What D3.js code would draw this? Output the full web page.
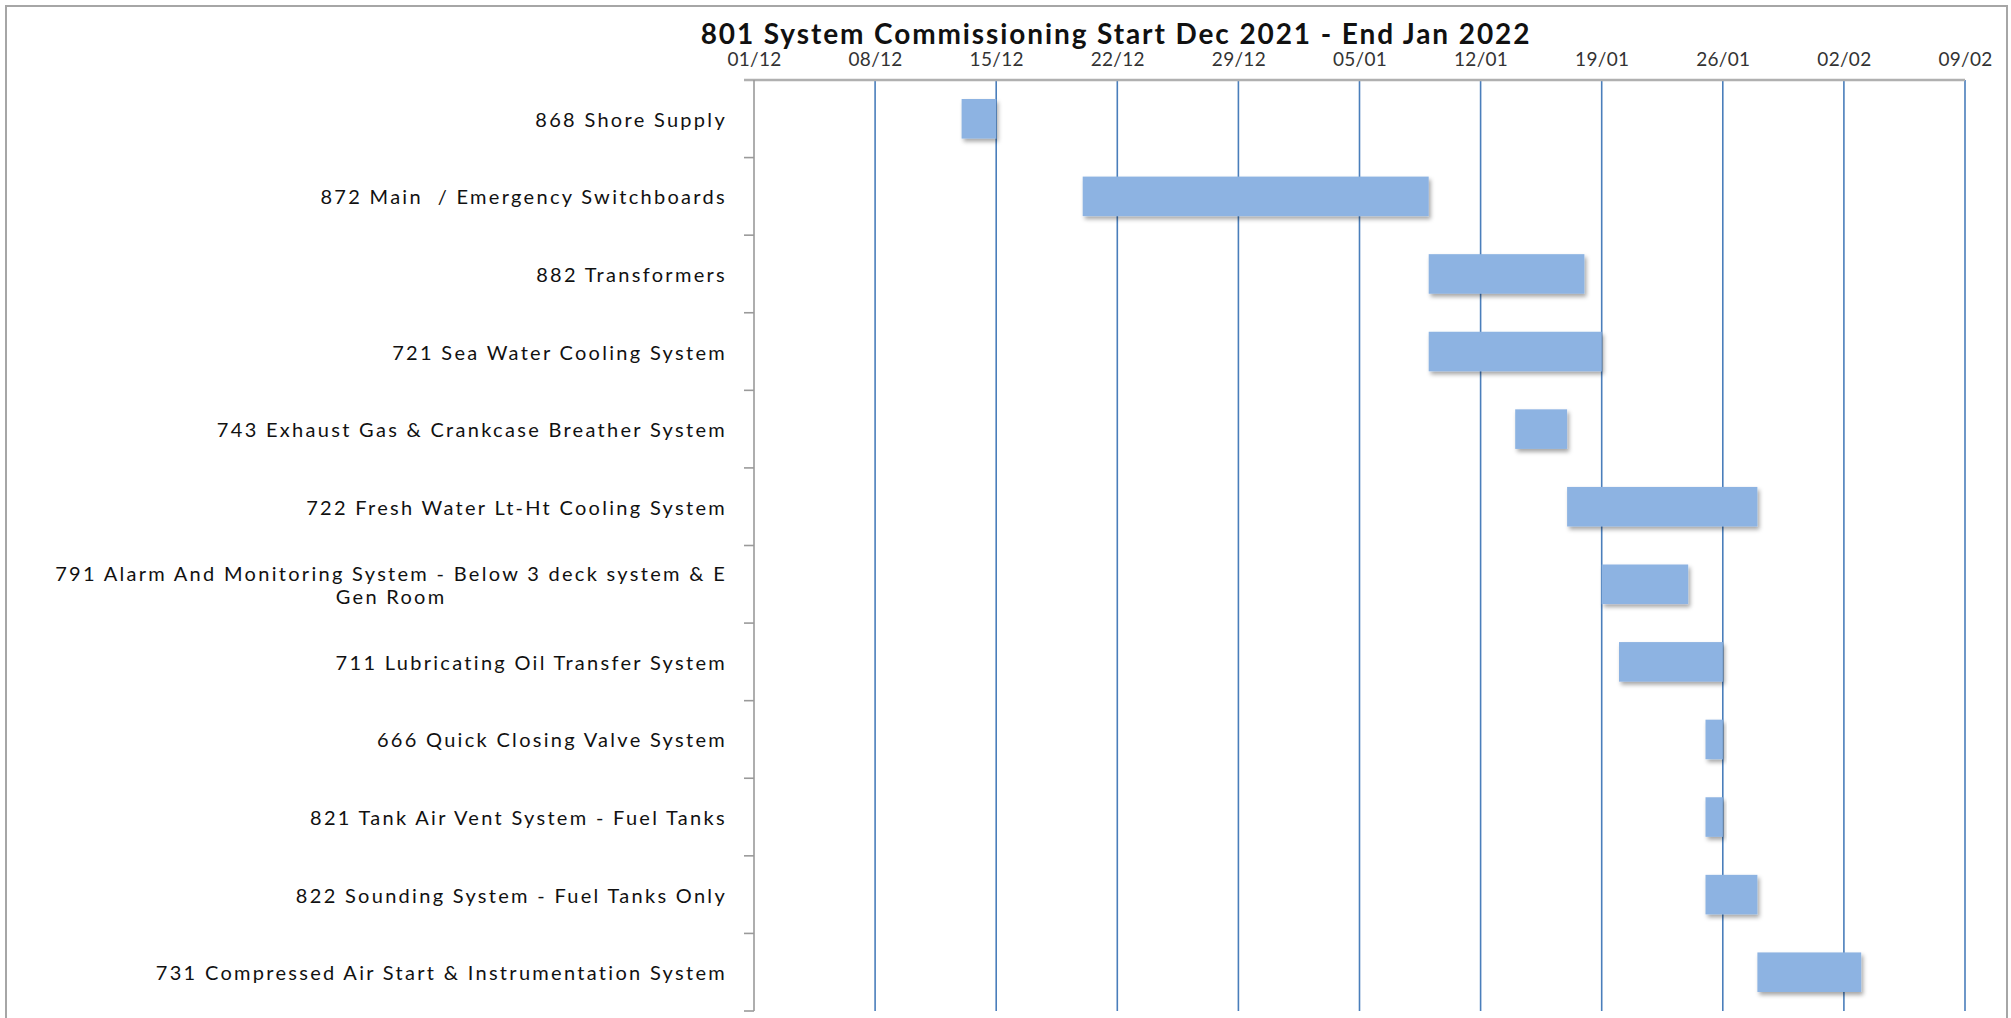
<!DOCTYPE html>
<html>
<head>
<meta charset="utf-8">
<script src="https://cdn.jsdelivr.net/npm/d3@7"></script>
<style>
  body { margin: 0; background: #fff; }
  svg { display: block; }
</style>
</head>
<body>
<svg id="chart"></svg>
<script>
const chartTitle = '801 System Commissioning Start Dec 2021 - End Jan 2022';

const tasks = [
  '868 Shore Supply',
  '872 Main  / Emergency Switchboards',
  '882 Transformers',
  '721 Sea Water Cooling System',
  '743 Exhaust Gas & Crankcase Breather System',
  '722 Fresh Water Lt-Ht Cooling System',
  '791 Alarm And Monitoring System - Below 3 deck system & E Gen Room',
  '711 Lubricating Oil Transfer System',
  '666 Quick Closing Valve System',
  '821 Tank Air Vent System - Fuel Tanks',
  '822 Sounding System - Fuel Tanks Only',
  '731 Compressed Air Start & Instrumentation System',
];
const startDates = [
  '2021-12-13', '2021-12-20', '2022-01-09', '2022-01-09', '2022-01-14', '2022-01-17',
  '2022-01-19', '2022-01-20', '2022-01-25', '2022-01-25', '2022-01-25', '2022-01-28',
];
const endDates = [
  '2021-12-15', '2022-01-09', '2022-01-18', '2022-01-19', '2022-01-17', '2022-01-28',
  '2022-01-24', '2022-01-26', '2022-01-26', '2022-01-26', '2022-01-28', '2022-02-03',
];
const tickDates = [
  '2021-12-01', '2021-12-08', '2021-12-15', '2021-12-22', '2021-12-29', '2022-01-05',
  '2022-01-12', '2022-01-19', '2022-01-26', '2022-02-02', '2022-02-09',
];

const width = 2011, height = 1018;
const margin = { top: 80, right: 46, bottom: 7, left: 754 };
const parse = d3.timeParse('%Y-%m-%d');
const fmt = d3.timeFormat('%d/%m');
const font = 'Lato, "Open Sans", sans-serif';

const data = tasks.map((name, i) => ({ name, start: parse(startDates[i]), end: parse(endDates[i]) }));
const ticks = tickDates.map(parse);

const svg = d3.select('#chart').attr('width', width).attr('height', height)
  .style('font-family', font);

// chart area frame
svg.append('rect')
  .attr('x', 6).attr('y', 6).attr('width', 2001).attr('height', 1040)
  .attr('fill', '#fff').attr('stroke', '#a6a6a6').attr('stroke-width', 2);

const defs = svg.append('defs');
defs.append('filter').attr('id', 'shadow')
  .attr('x', '-10%').attr('y', '-20%').attr('width', '130%').attr('height', '160%')
  .append('feDropShadow')
  .attr('dx', 2).attr('dy', 3).attr('stdDeviation', 2)
  .attr('flood-color', '#000').attr('flood-opacity', 0.35);

const x = d3.scaleTime()
  .domain([ticks[0], ticks[ticks.length - 1]])
  .range([margin.left, width - margin.right]);

const y = d3.scaleBand()
  .domain(tasks)
  .range([margin.top, height - margin.bottom])
  .paddingInner(0.49)
  .paddingOuter(0.245);

// vertical gridlines
svg.append('g')
  .selectAll('line')
  .data(ticks.slice(1))
  .join('line')
  .attr('x1', d => x(d)).attr('x2', d => x(d))
  .attr('y1', margin.top).attr('y2', height - margin.bottom)
  .attr('stroke', '#4a7ebb').attr('stroke-width', 1.6);

// bars
svg.append('g')
  .selectAll('rect')
  .data(data)
  .join('rect')
  .attr('x', d => x(d.start))
  .attr('y', d => y(d.name))
  .attr('width', d => x(d.end) - x(d.start))
  .attr('height', y.bandwidth())
  .attr('fill', '#8db3e2')
  .attr('filter', 'url(#shadow)');

// top date axis
const xAxis = svg.append('g')
  .attr('transform', `translate(0,${margin.top})`)
  .call(d3.axisTop(x).tickValues(ticks).tickFormat(fmt).tickSize(0).tickPadding(14));
xAxis.select('.domain')
  .attr('d', `M${margin.left - 10},0H${width - margin.right}`)
  .attr('stroke', '#b0b0b0').attr('stroke-width', 2.5);
xAxis.selectAll('text')
  .style('font-family', font).style('font-size', '19px')
  .style('letter-spacing', '0.3px').attr('fill', '#333');

// left category axis with boundary ticks
const step = y.step();
const bounds = d3.range(tasks.length + 1).map(i => margin.top + i * step);
const yAxis = svg.append('g');
yAxis.append('line')
  .attr('x1', margin.left).attr('x2', margin.left)
  .attr('y1', margin.top).attr('y2', height - margin.bottom)
  .attr('stroke', '#9a9a9a').attr('stroke-width', 1.6);
yAxis.selectAll('line.tick')
  .data(bounds.slice(1))
  .join('line')
  .attr('class', 'tick')
  .attr('x1', margin.left - 10).attr('x2', margin.left)
  .attr('y1', d => d).attr('y2', d => d)
  .attr('stroke', '#9a9a9a').attr('stroke-width', 1.6);

// category labels, wrapped and centered as a block that is right aligned
const labelRight = 727, maxLabelWidth = 700, lineHeight = 23;
const labels = svg.append('g')
  .style('font-size', '20px').style('letter-spacing', '2.3px')
  .attr('fill', '#111');

function labelText(sel) {
  return sel.attr('xml:space', 'preserve').style('white-space', 'pre');
}

data.forEach(d => {
  const words = d.name.split(' ');
  const probe = labelText(labels.append('text'));
  const lines = [];
  let line = [];
  words.forEach(w => {
    line.push(w);
    probe.text(line.join(' '));
    if (probe.node().getComputedTextLength() > maxLabelWidth && line.length > 1) {
      line.pop();
      lines.push(line.join(' '));
      line = [w];
    }
  });
  lines.push(line.join(' '));
  probe.remove();

  const widths = lines.map(l => {
    const t = labelText(labels.append('text')).text(l);
    const w = t.node().getComputedTextLength();
    t.remove();
    return w;
  });
  const blockW = d3.max(widths);
  const cx = labelRight - blockW / 2;
  const cy = y(d.name) + y.bandwidth() / 2;
  const t = labelText(labels.append('text'))
    .attr('text-anchor', 'middle')
    .attr('dominant-baseline', 'central');
  lines.forEach((l, i) => {
    t.append('tspan')
      .attr('x', cx)
      .attr('y', cy + (i - (lines.length - 1) / 2) * lineHeight)
      .text(l);
  });
});

// title
svg.append('text')
  .attr('x', 1116).attr('y', 44)
  .attr('text-anchor', 'middle')
  .style('font-size', '28px').style('font-weight', 'bold')
  .style('letter-spacing', '1.9px')
  .attr('fill', '#111')
  .text(chartTitle);
</script>
</body>
</html>
